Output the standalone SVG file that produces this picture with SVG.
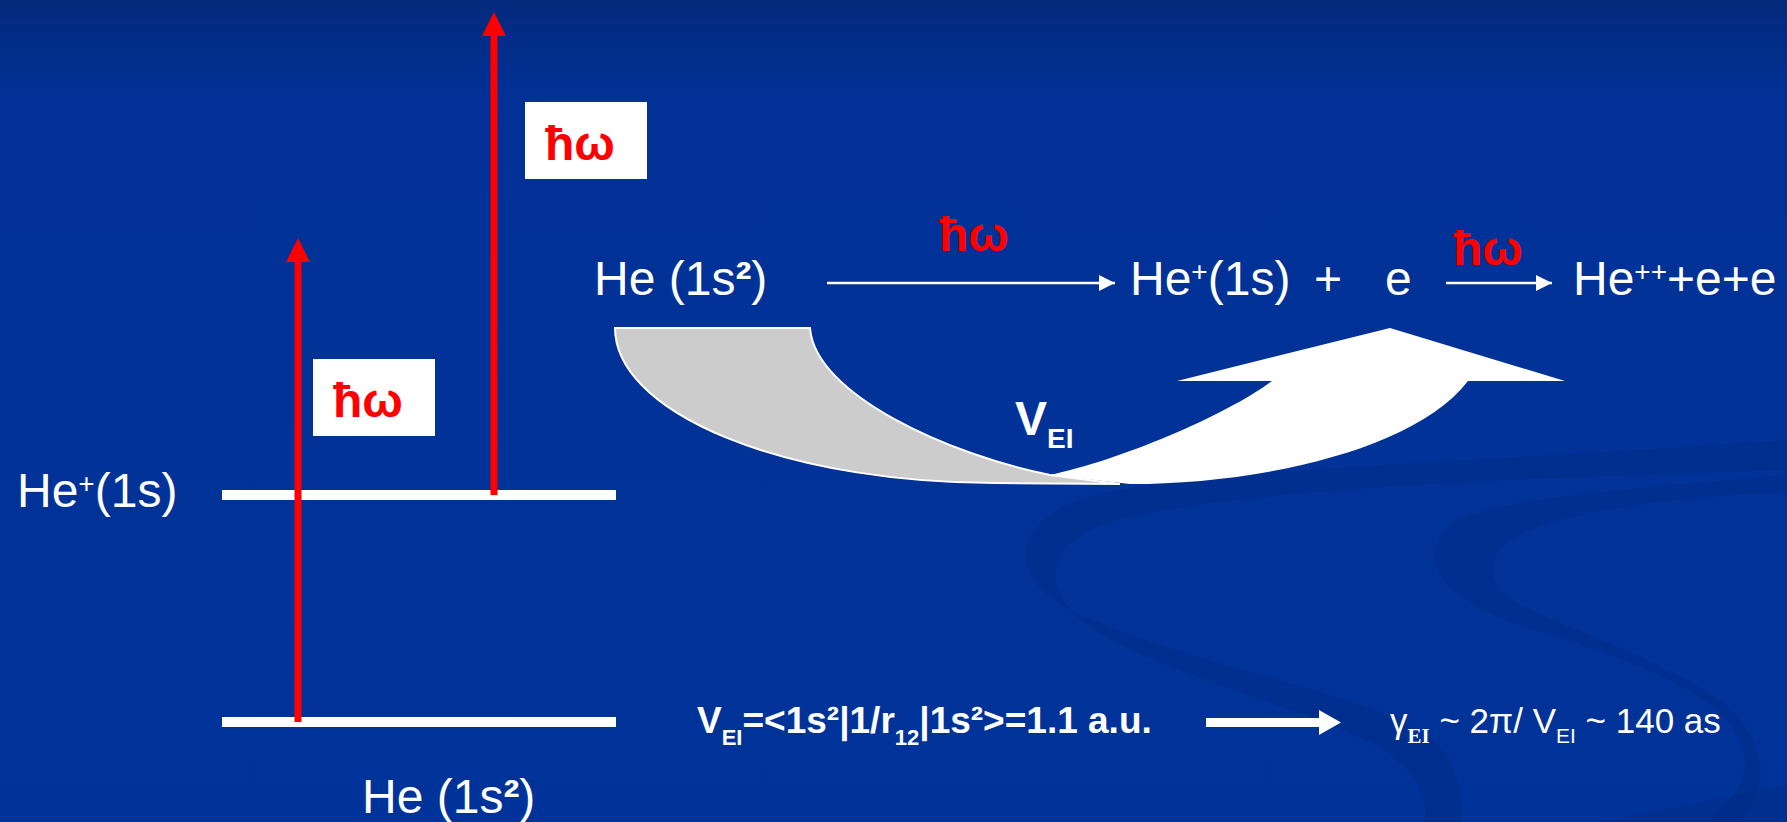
<svg xmlns="http://www.w3.org/2000/svg" width="1787" height="822" viewBox="0 0 1787 822">
<defs>
<linearGradient id="bg" x1="0" y1="0" x2="0" y2="1">
<stop offset="0" stop-color="#032a7c"/>
<stop offset="0.12" stop-color="#013196"/>
<stop offset="1" stop-color="#003399"/>
</linearGradient>
<marker id="ah" viewBox="0 0 10 10" refX="10" refY="5" markerWidth="16" markerHeight="16" markerUnits="userSpaceOnUse" orient="auto">
<path d="M0,0 L10,5 L0,10 Z" fill="#fff"/>
</marker>
</defs>
<style>
.t{font-family:"Liberation Sans",Arial,sans-serif;fill:#fff;font-size:48px}
.hw{font-family:"Liberation Sans",Arial,sans-serif;font-weight:bold;fill:#ff0000;font-size:48px}
.f{font-family:"Liberation Sans",Arial,sans-serif;font-weight:bold;fill:#fff;font-size:37px}
.g{font-family:"Liberation Sans",Arial,sans-serif;fill:#fff;font-size:35px}
.lvl{fill:#fff}
.red{fill:#ff0000}
.box{fill:#fff}
.band{fill:#002c86;opacity:0.5}
.conn{stroke:#fff;stroke-width:2.5;fill:none}
</style>
<rect width="1787" height="822" fill="url(#bg)"/>
<g id="background-waves">
<path class="band" d="M1787,440 C1500,462 1160,470 1080,500 C1010,525 1005,580 1080,615 C1230,680 1420,700 1450,760 C1465,795 1462,822 1462,822 L1425,822 C1428,790 1410,765 1370,742 C1280,700 1150,668 1095,630 C1040,595 1040,545 1110,522 C1220,490 1500,478 1787,470 Z"/>
<path class="band" d="M1787,475 C1620,490 1470,500 1445,530 C1420,560 1440,600 1520,625 C1650,665 1740,700 1745,760 C1748,800 1700,822 1700,822 L1740,822 C1770,790 1770,740 1720,700 C1650,650 1530,620 1500,590 C1480,560 1500,535 1560,520 C1640,500 1720,495 1787,492 Z"/>
<path class="band" d="M1787,785 L1600,822 L1787,822 Z"/>
</g>
<g id="level-upper">
<rect class="lvl" x="222" y="490" width="394" height="10"/>
<text class="t" x="17" y="507">He<tspan font-size="28" dy="-14">+</tspan><tspan dy="14">(1s)</tspan></text>
</g>
<g id="level-lower">
<rect class="lvl" x="222" y="717" width="394" height="10"/>
<text class="t" x="362" y="813">He (1s<tspan font-weight="bold">²</tspan>)</text>
</g>
<g id="photon-arrows">
<rect class="red" x="294.5" y="258" width="7" height="464"/>
<path class="red" d="M298,238 L310,262 L286,262 Z"/>
<rect class="red" x="490.5" y="32" width="7" height="463"/>
<path class="red" d="M494,12 L506,36 L482,36 Z"/>
</g>
<g id="hw-box-upper">
<rect class="box" x="525" y="102" width="122" height="77"/>
<text class="hw" x="545" y="160">ħω</text>
</g>
<g id="hw-box-lower">
<rect class="box" x="313" y="359" width="122" height="77"/>
<text class="hw" x="333" y="417">ħω</text>
</g>
<g id="reaction-he">
<text class="t" x="594" y="295">He (1s<tspan font-weight="bold">²</tspan>)</text>
</g>
<g id="reaction-heplus">
<text class="t" x="1130" y="295">He<tspan font-size="28" dy="-14">+</tspan><tspan dy="14">(1s)</tspan></text>
<text class="t" x="1314" y="295">+</text>
<text class="t" x="1385" y="295">e</text>
</g>
<g id="reaction-heplusplus">
<text class="t" x="1573" y="295">He<tspan font-size="28" dy="-14">++</tspan><tspan dy="14">+e+e</tspan></text>
</g>
<g id="connectors">
<line class="conn" x1="827" y1="283" x2="1115" y2="283" marker-end="url(#ah)"/>
<line class="conn" x1="1446" y1="283" x2="1552" y2="283" marker-end="url(#ah)"/>
<text class="hw" x="939" y="251">ħω</text>
<text class="hw" x="1453" y="265">ħω</text>
<path d="M1206,718 H1319 V710 L1341,722.5 L1319,735 V727 H1206 Z" fill="#fff"/>
</g>
<g id="curved-arrow">
<path d="M615,328 A380,155 0 0,0 995,483 L1120,484 L1050,475 C950,455 815,395 810,328 Z" fill="#cccccc" stroke="#fff" stroke-width="2"/>
<path d="M1050,475 C1120,460 1225,416 1272,381 L1177,381 L1390,328 L1565,381 L1468,381 C1415,450 1260,484 1130,484 Z" fill="#fff"/>
<text class="t" x="1015" y="435" font-weight="bold">V<tspan font-size="28" dy="13">EI</tspan></text>
</g>
<g id="formula">
<text class="f" x="697" y="733">V<tspan font-size="22" dy="12">EI</tspan><tspan dy="-12">=&lt;1s²|1/r</tspan><tspan font-size="22" dy="12">12</tspan><tspan dy="-12">|1s²&gt;=1.1 a.u.</tspan></text>
<text class="g" x="1390" y="733">γ<tspan font-family="'Liberation Serif',serif" font-weight="bold" font-size="21" dy="10">EI</tspan><tspan dy="-10"> ~ 2π/ V</tspan><tspan font-size="21" dy="10">EI</tspan><tspan dy="-10"> ~ 140 as</tspan></text>
</g>
</svg>
